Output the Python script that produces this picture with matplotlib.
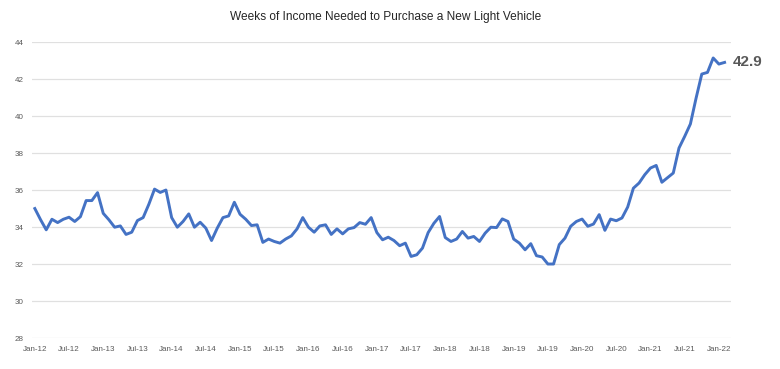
import matplotlib
matplotlib.use("Agg")
import matplotlib.pyplot as plt

# monthly values, Jan-12 .. Feb-22
weeks = [
    35.0, 34.4, 33.85, 34.42, 34.24, 34.42, 34.53, 34.3, 34.56, 35.43, 35.43, 35.86,
    34.74, 34.39, 33.99, 34.06, 33.6, 33.72, 34.35, 34.51, 35.23, 36.05, 35.87, 36.0,
    34.51, 33.99, 34.3, 34.71, 33.99, 34.26, 33.94, 33.27, 33.94, 34.51, 34.6, 35.34,
    34.69, 34.42, 34.08, 34.12, 33.17, 33.35, 33.22, 33.13, 33.35, 33.52, 33.9, 34.51,
    33.99, 33.72, 34.06, 34.12, 33.6, 33.9, 33.63, 33.9, 33.97, 34.24, 34.15, 34.51,
    33.7, 33.31, 33.45, 33.27, 32.99, 33.13, 32.41, 32.5, 32.86, 33.7, 34.2, 34.57,
    33.43, 33.22, 33.35, 33.76, 33.4, 33.49, 33.22, 33.67, 33.99, 33.97, 34.44, 34.3,
    33.35, 33.13, 32.77, 33.1, 32.45, 32.38, 32.0, 32.0, 33.05, 33.4, 34.04, 34.3,
    34.43, 34.04, 34.16, 34.67, 33.82, 34.43, 34.34, 34.49, 35.08, 36.1, 36.38, 36.83,
    37.19, 37.33, 36.42, 36.67, 36.92, 38.27, 38.9, 39.57, 40.97, 42.27, 42.36, 43.14,
    42.81, 42.9,
]
tick_labels = ["Jan-12", "Jul-12", "Jan-13", "Jul-13", "Jan-14", "Jul-14", "Jan-15",
               "Jul-15", "Jan-16", "Jul-16", "Jan-17", "Jul-17", "Jan-18", "Jul-18",
               "Jan-19", "Jul-19", "Jan-20", "Jul-20", "Jan-21", "Jul-21", "Jan-22"]
y_ticks = [28, 30, 32, 34, 36, 38, 40, 42, 44]
last_label = "42.9"

sans = ["Liberation Sans", "DejaVu Sans"]
grey = "#595959"

fig = plt.figure(figsize=(7.8, 3.69), dpi=100)
ax = fig.add_axes([0.041, 0.084, 0.896, 0.802])

x = list(range(len(weeks)))
ax.plot(x, weeks, color="#4472C4", linewidth=2.1, solid_joinstyle="round")

ax.set_ylim(28, 44)
ax.set_xlim(-0.5, 122.1)
ax.set_yticks(y_ticks)
ax.set_yticklabels([str(v) for v in y_ticks], fontsize=5.8, color=grey, family=sans)
ax.set_xticks(list(range(0, 121, 6)))
ax.set_xticklabels(tick_labels, fontsize=5.8, color=grey, family=sans)
ax.tick_params(length=0, pad=6)
ax.grid(axis="y", color="#e0e0e0", linewidth=0.9)
ax.set_axisbelow(True)
for s in ax.spines.values():
    s.set_visible(False)

ax.annotate(last_label, xy=(x[-1], weeks[-1]), xytext=(6, 0), textcoords="offset points",
            ha="left", va="center", fontsize=11, fontweight="bold", color=grey,
            family=sans)

fig.text(0.495, 0.953, "Weeks of Income Needed to Purchase a New Light Vehicle",
         ha="center", va="center", fontsize=8.6, color="#262626", family=sans)

fig.savefig("out.png", dpi=100)
